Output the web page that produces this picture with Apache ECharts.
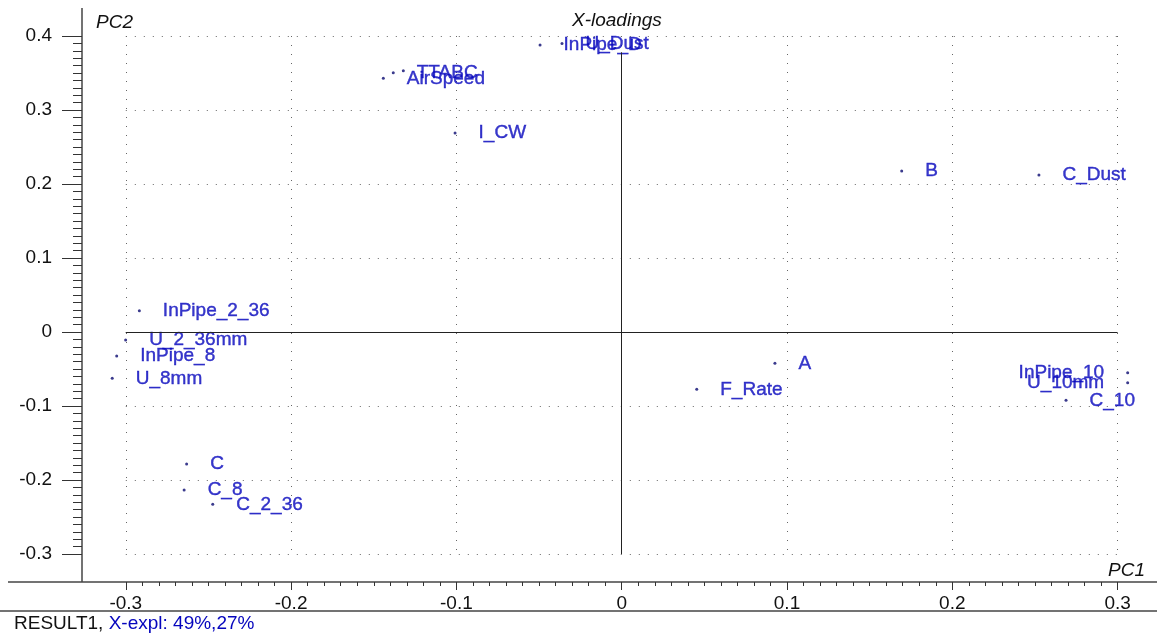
<!DOCTYPE html>
<html>
<head>
<meta charset="utf-8">
<script src="https://cdn.jsdelivr.net/npm/echarts@6/dist/echarts.min.js"></script>
<style>
html,body{margin:0;padding:0;background:#fff;}
#chart{width:1157px;height:635px;}
</style>
</head>
<body>
<div id="chart"></div>
<script>
// ---- data (X-loadings, PC1 vs PC2) ----
const names = ['InPipe_D','U_Dust','AirSpeed','TTABC','','I_CW','B','C_Dust',
  'InPipe_2_36','U_2_36mm','InPipe_8','U_8mm','A','F_Rate',
  'InPipe_10','U_10mm','C_10','C','C_8','C_2_36'];
const pc1 = [-0.0494,-0.0361,-0.1442,-0.1382,-0.1321,-0.1008,0.1694,0.2524,
  -0.2918,-0.3001,-0.3055,-0.3082,0.0927,0.0454,
  0.3061,0.3061,0.2688,-0.2632,-0.2647,-0.2474];
const pc2 = [0.388,0.390,0.3428,0.3504,0.3531,0.269,0.2176,0.2122,
  0.0288,-0.0108,-0.0324,-0.0626,-0.0423,-0.0774,
  -0.055,-0.0685,-0.0923,-0.1784,-0.2135,-0.2328];
const xTicks = [-0.3, 0.3, 0.1];   // min, max, step
const yTicks = [-0.3, 0.4, 0.1];
const zeroLineTop = 0.378;

const labelColor = '#0505bd';
const font = 'Arial, "Liberation Sans", sans-serif';

const pts = names.map((n, i) => {
  const left = pc1[i] > 0.29;
  return {
    name: n,
    value: [pc1[i], pc2[i]],
    label: { position: left ? 'left' : 'right' }
  };
});

const chart = echarts.init(document.getElementById('chart'), null, {renderer: 'canvas'});
const option = {
  animation: false,
  backgroundColor: '#fff',
  grid: { left: 125.8, right: 39.4, top: 36, bottom: 81 },
  xAxis: {
    type: 'value', min: xTicks[0], max: xTicks[1], interval: xTicks[2],
    offset: 28,
    axisLine: { show: false, onZero: false },
    axisTick: { show: true, length: 8, lineStyle: { color: '#333', width: 1 } },
    minorTick: { show: true, splitNumber: 10, length: 4, lineStyle: { color: '#333', width: 1 } },
    axisLabel: { margin: 12, fontSize: 19, color: '#111', fontFamily: font },
    splitLine: { show: true, lineStyle: { type: [1, 8], color: '#666', width: 1 } },
    minorSplitLine: { show: false }
  },
  yAxis: {
    type: 'value', min: yTicks[0], max: yTicks[1], interval: yTicks[2],
    offset: 43.8,
    axisLine: { show: false, onZero: false },
    axisTick: { show: true, length: 20, lineStyle: { color: '#333', width: 1 } },
    minorTick: { show: true, splitNumber: 10, length: 9, lineStyle: { color: '#333', width: 1 } },
    axisLabel: { margin: 30, fontSize: 19, color: '#111', fontFamily: font },
    splitLine: { show: true, lineStyle: { type: [1, 8], color: '#666', width: 1 } },
    minorSplitLine: { show: false }
  },
  series: [{
    type: 'scatter',
    clip: false,
    symbol: 'circle',
    symbolSize: 3,
    itemStyle: { color: '#0a0a70' },
    data: pts,
    label: {
      show: true,
      formatter: p => p.name,
      distance: 22,
      color: labelColor,
      textBorderColor: labelColor,
      textBorderWidth: 0.4,
      fontSize: 19,
      fontFamily: font
    },
    emphasis: { disabled: true },
    markLine: {
      silent: true,
      symbol: 'none',
      label: { show: false },
      lineStyle: { type: 'solid', color: '#222', width: 1 },
      data: [
        [{ coord: [xTicks[0], 0] }, { coord: [xTicks[1], 0] }],
        [{ coord: [0, yTicks[0]] }, { coord: [0, zeroLineTop] }]
      ]
    }
  }],
  graphic: [
    { type: 'line', shape: { x1: 8, y1: 582, x2: 1157, y2: 582 }, style: { stroke: '#444', lineWidth: 1.5 } },
    { type: 'line', shape: { x1: 82, y1: 8, x2: 82, y2: 582 }, style: { stroke: '#444', lineWidth: 1.5 } },
    { type: 'line', shape: { x1: 0, y1: 611, x2: 1157, y2: 611 }, style: { stroke: '#444', lineWidth: 1.5 } },
    { type: 'text', left: 96, top: 13, style: { text: 'PC2', fontSize: 19, fontStyle: 'italic', fontFamily: font, fill: '#111' } },
    { type: 'text', left: 572, top: 11, style: { text: 'X-loadings', fontSize: 19, fontStyle: 'italic', fontFamily: font, fill: '#111' } },
    { type: 'text', left: 1108, top: 561, style: { text: 'PC1', fontSize: 19, fontStyle: 'italic', fontFamily: font, fill: '#111' } },
    { type: 'text', left: 14, top: 614, style: {
        text: '{a|RESULT1, }{b|X-expl: 49%,27%}',
        rich: {
          a: { fontSize: 19, fontFamily: font, fill: '#111', color: '#111' },
          b: { fontSize: 19, fontFamily: font, fill: labelColor, color: labelColor }
        }
      } }
  ]
};
chart.setOption(option);
</script>
</body>
</html>
